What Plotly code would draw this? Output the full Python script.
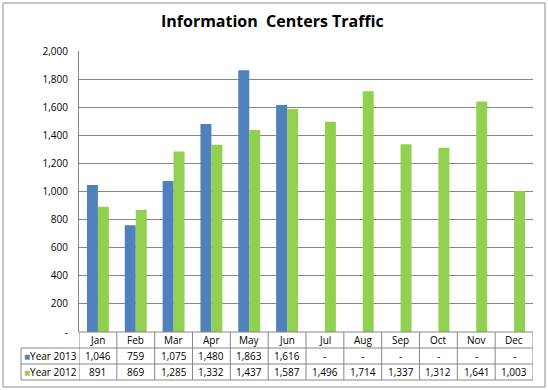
import plotly.graph_objects as go

months = ["Jan", "Feb", "Mar", "Apr", "May", "Jun", "Jul", "Aug", "Sep", "Oct", "Nov", "Dec"]
year2013 = [1046, 759, 1075, 1480, 1863, 1616, None, None, None, None, None, None]
year2012 = [891, 869, 1285, 1332, 1437, 1587, 1496, 1714, 1337, 1312, 1641, 1003]
series_names = ["Year 2013", "Year 2012"]
ytick_vals = [0, 200, 400, 600, 800, 1000, 1200, 1400, 1600, 1800, 2000]
ytick_text = ["-", "200", "400", "600", "800", "1,000", "1,200", "1,400", "1,600", "1,800", "2,000"]

BLUE = "#4F81BD"
GREEN = "#92D050"
LINE = "#868686"
FONT = "Open Sans"

W, H = 548, 390
L, R, T, B = 79, 15, 51, 58
plot_h = H - T - B

def py2paper(py):
    return (H - B - py) / plot_h

def px2paper(px):
    return (px - L) / (W - L - R)

fig = go.Figure()
fig.add_trace(go.Bar(x=months, y=year2013, name=series_names[0], marker_color=BLUE,
                     marker_line_width=0, showlegend=False))
fig.add_trace(go.Bar(x=months, y=year2012, name=series_names[1], marker_color=GREEN,
                     marker_line_width=0, showlegend=False))

def fmt(v):
    return "-" if v is None else f"{v:,}"

shapes = []
annotations = []
row_y = [332, 348, 364, 380]
# horizontal table lines
for i, yy in enumerate(row_y):
    x0 = 79 if i == 0 else 21
    shapes.append(dict(type="line", xref="paper", yref="paper",
                       x0=px2paper(x0), x1=1, y0=py2paper(yy), y1=py2paper(yy),
                       line=dict(color=LINE, width=1)))
# vertical table lines
for k in range(len(months) + 1):
    shapes.append(dict(type="line", xref="x", yref="paper",
                       x0=k - 0.5, x1=k - 0.5, y0=py2paper(332), y1=py2paper(380),
                       line=dict(color=LINE, width=1)))
shapes.append(dict(type="line", xref="paper", yref="paper",
                   x0=px2paper(21), x1=px2paper(21), y0=py2paper(348), y1=py2paper(380),
                   line=dict(color=LINE, width=1)))
# outer chart border
shapes.append(dict(type="rect", xref="paper", yref="paper",
                   x0=px2paper(3), x1=px2paper(545), y0=py2paper(387), y1=py2paper(3),
                   line=dict(color="#8C8C8C", width=1)))

cell_font = dict(family=FONT, size=10, color="#000000")
for i, m in enumerate(months):
    annotations.append(dict(x=i, y=py2paper(340), xref="x", yref="paper", text=m,
                            showarrow=False, font=cell_font, xanchor="center", yanchor="middle"))
    annotations.append(dict(x=i, y=py2paper(356), xref="x", yref="paper", text=fmt(year2013[i]),
                            showarrow=False, font=cell_font, xanchor="center", yanchor="middle"))
    annotations.append(dict(x=i, y=py2paper(372), xref="x", yref="paper", text=fmt(year2012[i]),
                            showarrow=False, font=cell_font, xanchor="center", yanchor="middle"))
for name, col, yy in [(series_names[0], BLUE, 356), (series_names[1], GREEN, 372)]:
    annotations.append(dict(x=px2paper(22), y=py2paper(yy), xref="paper", yref="paper",
                            text=f"<span style='color:{col}'>■</span>{name}",
                            showarrow=False, font=cell_font, xanchor="left", yanchor="middle"))

fig.update_layout(
    width=W, height=H,
    margin=dict(l=L, r=R, t=T, b=B),
    paper_bgcolor="white", plot_bgcolor="white",
    title=dict(text="<b>Information  Centers Traffic</b>", x=0.497, xanchor="center",
               y=1 - 21 / H, yanchor="middle",
               font=dict(family=FONT, size=16, color="#000000")),
    barmode="group", bargap=0.42, bargroupgap=0,
    xaxis=dict(showticklabels=False, showgrid=False, showline=False, ticks="",
               range=[-0.5, 11.5], fixedrange=True),
    yaxis=dict(range=[0, 2000], tickvals=ytick_vals, ticktext=ytick_text,
               showgrid=True, gridcolor=LINE, gridwidth=1, zeroline=False,
               showline=True, linecolor=LINE, linewidth=1, ticks="",
               ticklabelstandoff=8,
               tickfont=dict(family=FONT, size=10, color="#000000")),
    shapes=shapes, annotations=annotations,
    font=dict(family=FONT),
)

fig.write_html("out.html", config={"displayModeBar": False},
               post_script="document.body.style.margin='0px';document.body.style.overflow='hidden';")
